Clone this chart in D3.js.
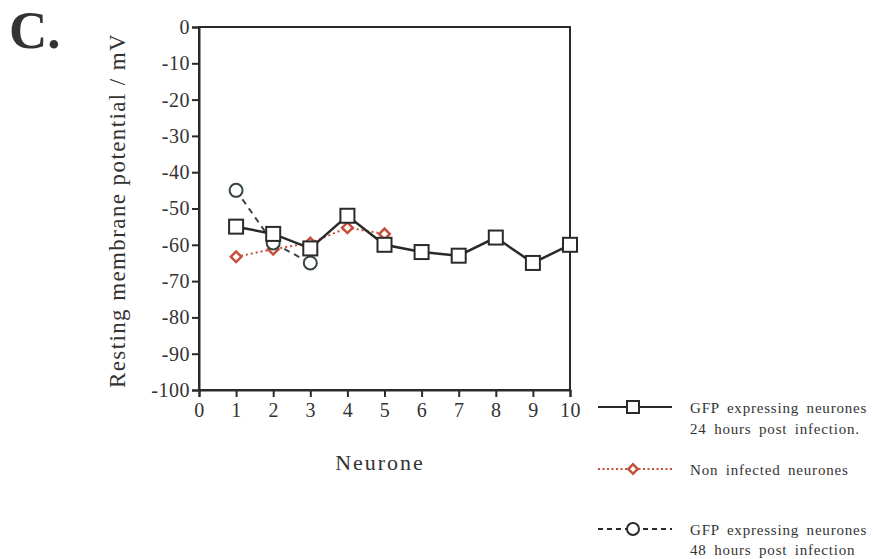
<!DOCTYPE html>
<html>
<head>
<meta charset="utf-8">
<script src="https://cdn.jsdelivr.net/npm/d3@7"></script>
<style>
  body { margin: 0; background: #fff; }
  svg { display: block; }
  text { font-family: "Liberation Serif", "Times New Roman", serif; fill: #333; }
</style>
</head>
<body>
<svg width="873" height="559"></svg>
<script>
// data
const neurones = [1, 2, 3, 4, 5, 6, 7, 8, 9, 10];
const gfp24 = [-55, -57, -61, -52, -60, -62, -63, -58, -65, -60];
const nonInfected = [-63.3, -61.2, -59.5, -55.3, -57];
const gfp48 = [-45, -59.5, -65];
const xTicks = [0, 1, 2, 3, 4, 5, 6, 7, 8, 9, 10];
const yTicks = [0, -10, -20, -30, -40, -50, -60, -70, -80, -90, -100];

const svg = d3.select("svg");
const plotL = 199, plotR = 570, plotT = 27, plotB = 390;

const x = d3.scaleLinear().domain([0, 10]).range([plotL, plotR]);
const y = d3.scaleLinear().domain([-100, 0]).range([plotB, plotT]);

const ink = "#2a2a2a";
const red = "#c4503c";
const teal = "#34463f";

// frame
svg.append("rect")
    .attr("x", plotL).attr("y", plotT)
    .attr("width", plotR - plotL).attr("height", plotB - plotT)
    .attr("fill", "none").attr("stroke", ink).attr("stroke-width", 2);

const plain = d => String(d);   // keep the hyphen minus of the original
const yAxis = svg.append("g")
    .attr("transform", `translate(${plotL},0)`)
    .call(d3.axisLeft(y).tickValues(yTicks).tickFormat(plain).tickSize(7).tickPadding(2));
const xAxis = svg.append("g")
    .attr("transform", `translate(0,${plotB})`)
    .call(d3.axisBottom(x).tickValues(xTicks).tickFormat(plain).tickSize(7).tickPadding(6));

[xAxis, yAxis].forEach(g => {
    g.select(".domain").attr("stroke", ink).attr("stroke-width", 2);
    g.selectAll(".tick line").attr("stroke", ink).attr("stroke-width", 2);
    g.selectAll(".tick text")
        .attr("fill", "#333")
        .style("font-family", "'Liberation Serif', serif")
        .style("font-size", "20px")
        .style("letter-spacing", "0.5px");
});

// panel label
svg.append("text")
    .attr("x", 9).attr("y", 48)
    .style("font-size", "53px").style("font-weight", "bold")
    .attr("fill", "#111")
    .text("C.");

// axis titles
svg.append("text")
    .attr("transform", `translate(125,${(plotT + plotB) / 2 + 2}) rotate(-90)`)
    .attr("text-anchor", "middle")
    .style("font-size", "23px")
    .style("letter-spacing", "1.4px")
    .text("Resting membrane potential / mV");

svg.append("text")
    .attr("x", 380).attr("y", 470)
    .attr("text-anchor", "middle")
    .style("font-size", "22px")
    .style("letter-spacing", "2px")
    .text("Neurone");

const line = d3.line().x(d => x(d[0])).y(d => y(d[1]));

const sGfp24 = neurones.map((n, i) => [n, gfp24[i]]);
const sNon = nonInfected.map((v, i) => [neurones[i], v]);
const sGfp48 = gfp48.map((v, i) => [neurones[i], v]);

// non infected (dotted red)
svg.append("path").datum(sNon)
    .attr("d", line).attr("fill", "none")
    .attr("stroke", red).attr("stroke-width", 2).attr("stroke-dasharray", "2,3");
// 48 h (dashed)
svg.append("path").datum(sGfp48)
    .attr("d", line).attr("fill", "none")
    .attr("stroke", "#3a4440").attr("stroke-width", 2).attr("stroke-dasharray", "6,5");

const diamond = d3.symbol().type(d3.symbolSquare).size(56);
svg.selectAll(null).data(sNon).enter().append("path")
    .attr("d", diamond)
    .attr("transform", d => `translate(${x(d[0])},${y(d[1])}) rotate(45)`)
    .attr("fill", "#fff").attr("stroke", red).attr("stroke-width", 2.5);

svg.selectAll(null).data(sGfp48).enter().append("circle")
    .attr("cx", d => x(d[0])).attr("cy", d => y(d[1])).attr("r", 6.5)
    .attr("fill", "#fff").attr("stroke", teal).attr("stroke-width", 2);

// 24 h (solid, squares on top)
svg.append("path").datum(sGfp24)
    .attr("d", line).attr("fill", "none")
    .attr("stroke", ink).attr("stroke-width", 2.5);
svg.selectAll(null).data(sGfp24).enter().append("rect")
    .attr("x", d => x(d[0]) - 7).attr("y", d => y(d[1]) - 7)
    .attr("width", 14).attr("height", 14)
    .attr("fill", "#fff").attr("stroke", ink).attr("stroke-width", 2);

// legend
const legend = svg.append("g")
    .style("font-size", "15px")
    .style("letter-spacing", "0.8px")
    .style("word-spacing", "3px");
const lx0 = 598, lx1 = 672, lmid = 633, tx = 690;

legend.append("line").attr("x1", lx0).attr("x2", lx1).attr("y1", 407).attr("y2", 407)
    .attr("stroke", ink).attr("stroke-width", 2);
legend.append("rect").attr("x", lmid - 6).attr("y", 401).attr("width", 12).attr("height", 12)
    .attr("fill", "#fff").attr("stroke", ink).attr("stroke-width", 2);
legend.append("text").attr("x", tx).attr("y", 413).text("GFP expressing neurones");
legend.append("text").attr("x", tx).attr("y", 434).text("24 hours post infection.");

legend.append("line").attr("x1", lx0).attr("x2", lx1).attr("y1", 469).attr("y2", 469)
    .attr("stroke", red).attr("stroke-width", 2).attr("stroke-dasharray", "2,2.5");
legend.append("path").attr("d", d3.symbol().type(d3.symbolSquare).size(44))
    .attr("transform", `translate(${lmid},469) rotate(45)`)
    .attr("fill", "#fff").attr("stroke", red).attr("stroke-width", 2.5);
legend.append("text").attr("x", tx).attr("y", 475).text("Non infected neurones");

legend.append("line").attr("x1", lx0).attr("x2", lx1).attr("y1", 529).attr("y2", 529)
    .attr("stroke", ink).attr("stroke-width", 2).attr("stroke-dasharray", "5,4");
legend.append("circle").attr("cx", lmid).attr("cy", 529).attr("r", 6)
    .attr("fill", "#fff").attr("stroke", ink).attr("stroke-width", 2);
legend.append("text").attr("x", tx).attr("y", 535).text("GFP expressing neurones");
legend.append("text").attr("x", tx).attr("y", 555).text("48 hours post infection");
</script>
</body>
</html>
